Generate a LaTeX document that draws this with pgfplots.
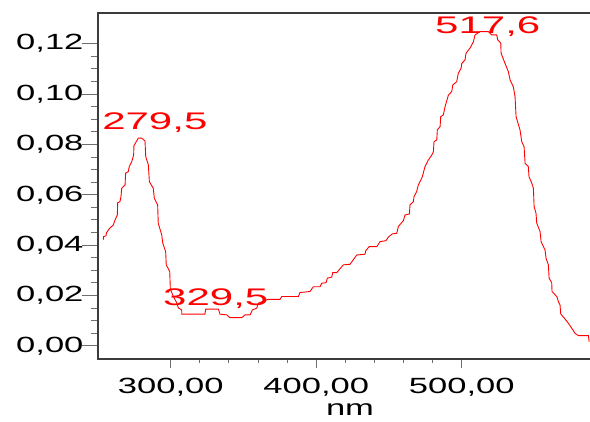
\documentclass[border=0pt]{standalone}
\usepackage{fontspec}
\setmainfont{Liberation Sans}[FakeStretch=1.57]
\newfontfamily\annfont{Liberation Sans}[FakeStretch=1.75]
\usepackage{pgfplots}
\pgfplotsset{compat=1.18}
\definecolor{axisgray}{RGB}{60,60,60}
\definecolor{tickgray}{RGB}{110,110,110}

\begin{document}
\begin{tikzpicture}[x=1pt,y=1pt]
\begin{axis}[
    at={(0,0)},anchor=south west,scale only axis,
    width=500pt,height=346pt,
    xmin=250,xmax=593.6,ymin=-0.0052,ymax=0.1322,
    clip=false,
    axis line style={axisgray,line width=1.2pt},
    tick align=outside,tick pos=left,
    every tick/.style={tickgray,line width=1pt},
    major tick length=16pt,minor tick length=7pt,
    xtick style={/pgfplots/major tick length=9pt,/pgfplots/minor tick length=4pt},
    xtick={300,400,500},minor x tick num=4,
    ytick={0,0.02,0.04,0.06,0.08,0.10,0.12},minor y tick num=3,
    tick label style={font=\fontsize{22}{26}\selectfont},
    xticklabel style={/pgf/number format/.cd,fixed,fixed zerofill,precision=2,use comma,assume math mode=true},
    yticklabel style={xshift=5pt,/pgf/number format/.cd,fixed,fixed zerofill,precision=2,use comma,assume math mode=true},
    xlabel={nm},
    xlabel style={font=\fontsize{22}{26}\selectfont,at={(axis description cs:0.504,0)},anchor=base,yshift=-57pt},
  ]
  \addplot[red,line width=0.9pt] coordinates {
    (253.6,0.0421)(253.8,0.0434)(255.5,0.0437)(255.8,0.0449)(258.0,0.0467)
    (260.5,0.0480)(261.7,0.0500)(263.3,0.0520)(263.5,0.0568)(265.1,0.0573)
    (265.8,0.0593)(266.3,0.0626)(268.6,0.0639)(269.0,0.0686)(270.8,0.0692)
    (271.5,0.0712)(273.2,0.0732)(274.5,0.0758)(274.7,0.0795)(277.0,0.0818)
    (277.7,0.0825)(280.0,0.0825)(282.3,0.0814)(282.8,0.0752)(284.6,0.0719)
    (285.3,0.0652)(288.0,0.0626)(288.7,0.0586)(291.0,0.0560)(291.4,0.0487)
    (293.8,0.0441)(294.5,0.0408)(296.5,0.0374)(296.9,0.0322)(299.3,0.0295)
    (299.7,0.0226)(301.8,0.0196)(304.1,0.0171)(305.2,0.0151)(307.5,0.0143)
    (307.6,0.0126)(323.5,0.0126)(324.0,0.0146)(332.7,0.0146)(333.9,0.0126)
    (338.5,0.0123)(340.7,0.0112)(348.8,0.0112)(351.0,0.0123)(354.5,0.0123)
    (356.1,0.0143)(359.1,0.0150)(360.2,0.0170)(366.0,0.0183)(367.1,0.0185)
    (375.1,0.0185)(376.3,0.0196)(387.7,0.0196)(388.8,0.0212)(395.7,0.0216)
    (398.0,0.0235)(402.6,0.0235)(403.7,0.0249)(406.7,0.0251)(407.6,0.0269)
    (410.6,0.0273)(411.3,0.0291)(414.1,0.0291)(418.6,0.0322)(423.2,0.0324)
    (427.8,0.0361)(433.5,0.0364)(434.0,0.0378)(436.3,0.0394)(441.6,0.0394)
    (443.8,0.0414)(447.9,0.0418)(449.5,0.0432)(452.3,0.0445)(455.3,0.0447)
    (456.4,0.0474)(459.8,0.0497)(461.0,0.0520)(464.0,0.0524)(464.4,0.0560)
    (466.7,0.0573)(467.2,0.0593)(469.0,0.0613)(470.1,0.0639)(472.5,0.0666)
    (473.2,0.0679)(474.7,0.0712)(477.0,0.0738)(479.4,0.0758)(480.5,0.0771)
    (480.9,0.0811)(482.8,0.0818)(483.2,0.0858)(485.1,0.0871)(485.5,0.0910)
    (487.3,0.0917)(488.5,0.0950)(490.8,0.0996)(493.1,0.1010)(493.8,0.1036)
    (496.5,0.1049)(497.6,0.1083)(499.5,0.1102)(500.0,0.1122)(502.2,0.1135)
    (502.9,0.1162)(505.7,0.1183)(508.0,0.1208)(509.1,0.1235)(512.6,0.1248)
    (518.3,0.1248)(520.6,0.1235)(524.0,0.1235)(524.7,0.1215)(526.8,0.1202)
    (527.0,0.1162)(529.7,0.1122)(532.0,0.1089)(533.2,0.1056)(535.4,0.1029)
    (536.6,0.0990)(537.3,0.0910)(540.0,0.0858)(541.2,0.0811)(542.8,0.0791)
    (543.5,0.0725)(545.7,0.0712)(546.2,0.0672)(548.1,0.0646)(549.2,0.0626)
    (549.7,0.0553)(551.0,0.0527)(551.5,0.0487)(553.8,0.0454)(554.5,0.0414)
    (557.2,0.0381)(557.9,0.0348)(559.5,0.0322)(560.0,0.0269)(561.8,0.0251)
    (562.0,0.0216)(565.3,0.0196)(566.4,0.0176)(567.5,0.0163)(568.0,0.0127)
    (570.5,0.0110)(573.2,0.0090)(575.6,0.0070)(577.8,0.0050)(580.1,0.0041)
    (587.0,0.0041)(587.5,0.0017)
  };
  \node[anchor=base west,inner sep=0pt,text=red,font=\annfont\fontsize{24}{28}\selectfont] at (axis cs:252.8,0.0861) {279,5};
  \node[anchor=base west,inner sep=0pt,text=red,font=\annfont\fontsize{24}{28}\selectfont] at (axis cs:294.7,0.0159) {329,5};
  \node[anchor=base west,inner sep=0pt,text=red,font=\annfont\fontsize{24}{28}\selectfont] at (axis cs:481.6,0.1239) {517,6};
\end{axis}
\pgfresetboundingbox
\useasboundingbox (-98,-63) rectangle (492,359);
\end{tikzpicture}
\end{document}
